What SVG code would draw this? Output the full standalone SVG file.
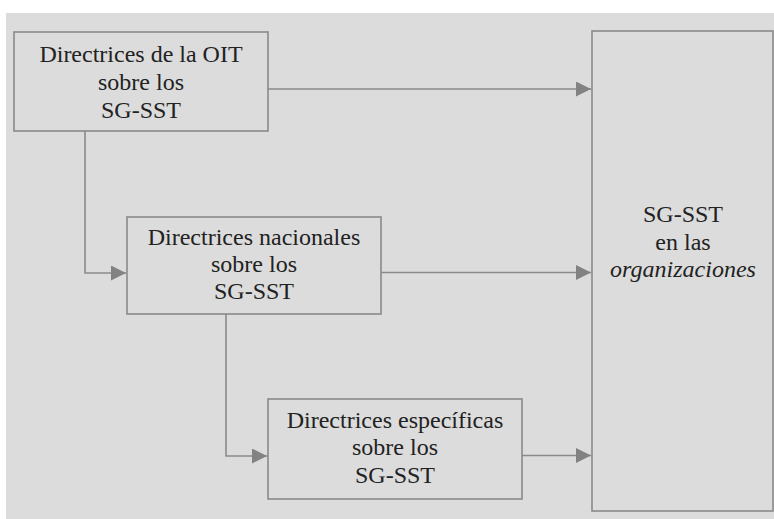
<svg xmlns="http://www.w3.org/2000/svg" width="774" height="519" viewBox="0 0 774 519">
  <style>
    .box { fill: #dcdcdc; stroke: #8a8a8a; stroke-width: 1.6; }
    .conn { fill: none; stroke: #8a8a8a; stroke-width: 1.6; }
    .txt { font-family: 'Liberation Serif', 'Times New Roman', Times, Tinos, 'Noto Serif', 'DejaVu Serif', Georgia, serif; font-size: 24px; fill: #222222; text-anchor: middle; }
    .it { font-style: italic; }
  </style>
  <defs>
    <marker id="arrow" markerUnits="userSpaceOnUse" markerWidth="16" markerHeight="16" refX="15" refY="7.5" orient="auto">
      <path d="M0,0 L15,7.5 L0,15 Z" fill="#828282"/>
    </marker>
  </defs>
  <rect x="0" y="0" width="774" height="519" fill="#ffffff"/>
  <rect x="6" y="13" width="768" height="506" fill="#dcdcdc"/>

  <g id="connectors">
    <path class="conn" d="M268,89 L591,89" marker-end="url(#arrow)"/>
    <path class="conn" d="M381,272.5 L591,272.5" marker-end="url(#arrow)"/>
    <path class="conn" d="M522,455.5 L591,455.5" marker-end="url(#arrow)"/>
    <path class="conn" d="M85,131 L85,273 L126,273" marker-end="url(#arrow)"/>
    <path class="conn" d="M226,314 L226,456 L267,456" marker-end="url(#arrow)"/>
  </g>

  <g id="node-oit">
    <rect class="box" x="14" y="32" width="254" height="99"/>
    <text class="txt" x="141" y="62">Directrices de la OIT</text>
    <text class="txt" x="141" y="90">sobre los</text>
    <text class="txt" x="141" y="118">SG-SST</text>
  </g>

  <g id="node-nacionales">
    <rect class="box" x="127" y="217" width="254" height="97"/>
    <text class="txt" x="254" y="245">Directrices nacionales</text>
    <text class="txt" x="254" y="272">sobre los</text>
    <text class="txt" x="254" y="299">SG-SST</text>
  </g>

  <g id="node-especificas">
    <rect class="box" x="268" y="399" width="254" height="100"/>
    <text class="txt" x="395" y="428">Directrices específicas</text>
    <text class="txt" x="395" y="455">sobre los</text>
    <text class="txt" x="395" y="483">SG-SST</text>
  </g>

  <g id="node-organizaciones">
    <rect class="box" x="592" y="31" width="181" height="480"/>
    <text class="txt" x="683" y="222">SG-SST</text>
    <text class="txt" x="683" y="250">en las</text>
    <text class="txt it" x="683" y="277">organizaciones</text>
  </g>
</svg>
